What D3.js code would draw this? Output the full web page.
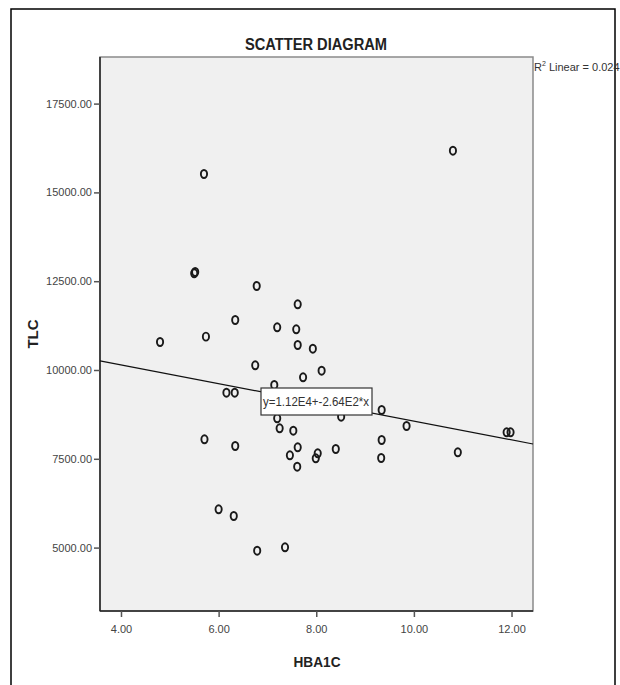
<!DOCTYPE html>
<html>
<head>
<meta charset="utf-8">
<script src="https://cdn.jsdelivr.net/npm/d3@7"></script>
<style>
  body { margin: 0; background: #fff; }
  svg { display: block; font-family: "Liberation Sans", Arial, sans-serif; }
</style>
</head>
<body>
<svg id="chart" width="620" height="685"></svg>
<script>
// values
const hba1c = [5.70, 5.50, 5.52, 6.78, 7.62, 6.34, 7.20, 7.59, 7.62, 7.93,
               4.80, 5.74, 6.75, 8.11, 7.73, 6.16, 6.33, 7.14, 7.20, 7.25,
               7.53, 5.71, 6.34, 7.62, 7.46, 7.61, 8.03, 7.99, 8.40, 6.00,
               6.31, 6.79, 7.36, 9.34, 8.51, 9.85, 9.34, 9.33, 10.90, 11.90,
               11.98, 10.80];
const tlc = [15518, 12722, 12760, 12365, 11850, 11408, 11202, 11146, 10704, 10600,
             10788, 10939, 10132, 9980, 9794, 9361, 9361, 9578, 8640, 8358,
             8291, 8049, 7860, 7824, 7598, 7278, 7655, 7514, 7776, 6078,
             5890, 4913, 5008, 8874, 8685, 8423, 8029, 7522, 7683, 8246,
             8246, 16174];
const xTicks = [4, 6, 8, 10, 12];
const yTicks = [5000, 7500, 10000, 12500, 15000, 17500];
const intercept = 11200, slope = -264;
const rSquared = "0.024";
const equation = "y=1.12E4+-2.64E2*x";

const svg = d3.select("#chart");
const plotL = 100, plotR = 533, plotT = 57, plotB = 611;

const x = d3.scaleLinear().domain([3.57, 12.44]).range([plotL, plotR]);
const y = d3.scaleLinear().domain([3215, 18812]).range([plotB, plotT]);

// outer frame
svg.append("path")
    .attr("d", "M11,685 V9 H615 V685")
    .attr("fill", "none")
    .attr("stroke", "#000")
    .attr("stroke-width", 1.5);

svg.append("text")
    .attr("x", 316).attr("y", 50)
    .attr("text-anchor", "middle")
    .attr("font-size", 16).attr("font-weight", "bold")
    .attr("fill", "#222")
    .attr("textLength", 142).attr("lengthAdjust", "spacingAndGlyphs")
    .text("SCATTER DIAGRAM");

// plot background
svg.append("rect")
    .attr("x", plotL).attr("y", plotT)
    .attr("width", plotR - plotL).attr("height", plotB - plotT)
    .attr("fill", "#f0f0f0")
    .attr("stroke", "#8a8a8a")
    .attr("stroke-width", 1.5);

// axes
const xAxis = d3.axisBottom(x).tickValues(xTicks).tickSize(6).tickFormat(d3.format(".2f"));
const yAxis = d3.axisLeft(y).tickValues(yTicks).tickSize(6).tickFormat(d3.format(".2f"));

const gx = svg.append("g").attr("transform", `translate(0,${plotB})`).call(xAxis);
const gy = svg.append("g").attr("transform", `translate(${plotL},0)`).call(yAxis);

[gx, gy].forEach(g => {
    g.select(".domain").attr("stroke", "#222").attr("stroke-width", 1.5);
    g.selectAll(".tick line").attr("stroke", "#555").attr("stroke-width", 1.5);
    g.selectAll(".tick text")
        .attr("fill", "#444")
        .attr("font-size", 11)
        .attr("font-family", "Liberation Sans, Arial, sans-serif");
});
gx.select(".domain").attr("d", `M${plotL},0H${plotR}`);
gy.select(".domain").attr("d", `M0,${plotT}V${plotB}`);
gx.selectAll(".tick text").attr("dy", "1.2em");
gy.selectAll(".tick text").attr("x", -8);

// axis titles
svg.append("text")
    .attr("x", 317).attr("y", 667)
    .attr("text-anchor", "middle")
    .attr("font-size", 15).attr("font-weight", "bold")
    .attr("fill", "#222")
    .attr("textLength", 47).attr("lengthAdjust", "spacingAndGlyphs")
    .text("HBA1C");

svg.append("text")
    .attr("transform", `translate(38,${(plotT + plotB) / 2}) rotate(-90)`)
    .attr("text-anchor", "middle")
    .attr("font-size", 15).attr("font-weight", "bold")
    .attr("fill", "#222")
    .text("TLC");

// fit line
const xd = x.domain();
svg.append("line")
    .attr("x1", x(xd[0])).attr("y1", y(intercept + slope * xd[0]))
    .attr("x2", x(xd[1])).attr("y2", y(intercept + slope * xd[1]))
    .attr("stroke", "#111")
    .attr("stroke-width", 1.2);

// points
const pts = hba1c.map((d, i) => ({x: d, y: tlc[i]}));
svg.append("g").selectAll("ellipse")
    .data(pts)
    .enter()
    .append("ellipse")
    .attr("cx", d => x(d.x))
    .attr("cy", d => y(d.y))
    .attr("rx", 3.1)
    .attr("ry", 4)
    .attr("fill", "none")
    .attr("stroke", "#1a1a1a")
    .attr("stroke-width", 1.9);

// equation label
svg.append("rect")
    .attr("x", 261).attr("y", 388)
    .attr("width", 111).attr("height", 27)
    .attr("fill", "#fff")
    .attr("stroke", "#333")
    .attr("stroke-width", 1.2);
svg.append("text")
    .attr("x", 263).attr("y", 406)
    .attr("font-size", 12)
    .attr("fill", "#333")
    .attr("textLength", 106).attr("lengthAdjust", "spacingAndGlyphs")
    .text(equation);

// R² label
const r2 = svg.append("text")
    .attr("x", 534).attr("y", 71)
    .attr("font-size", 11)
    .attr("fill", "#333");
r2.append("tspan").text("R");
r2.append("tspan").attr("dy", -5).attr("font-size", 7).text("2");
r2.append("tspan").attr("dy", 5).text(" Linear = " + rSquared);
</script>
</body>
</html>
